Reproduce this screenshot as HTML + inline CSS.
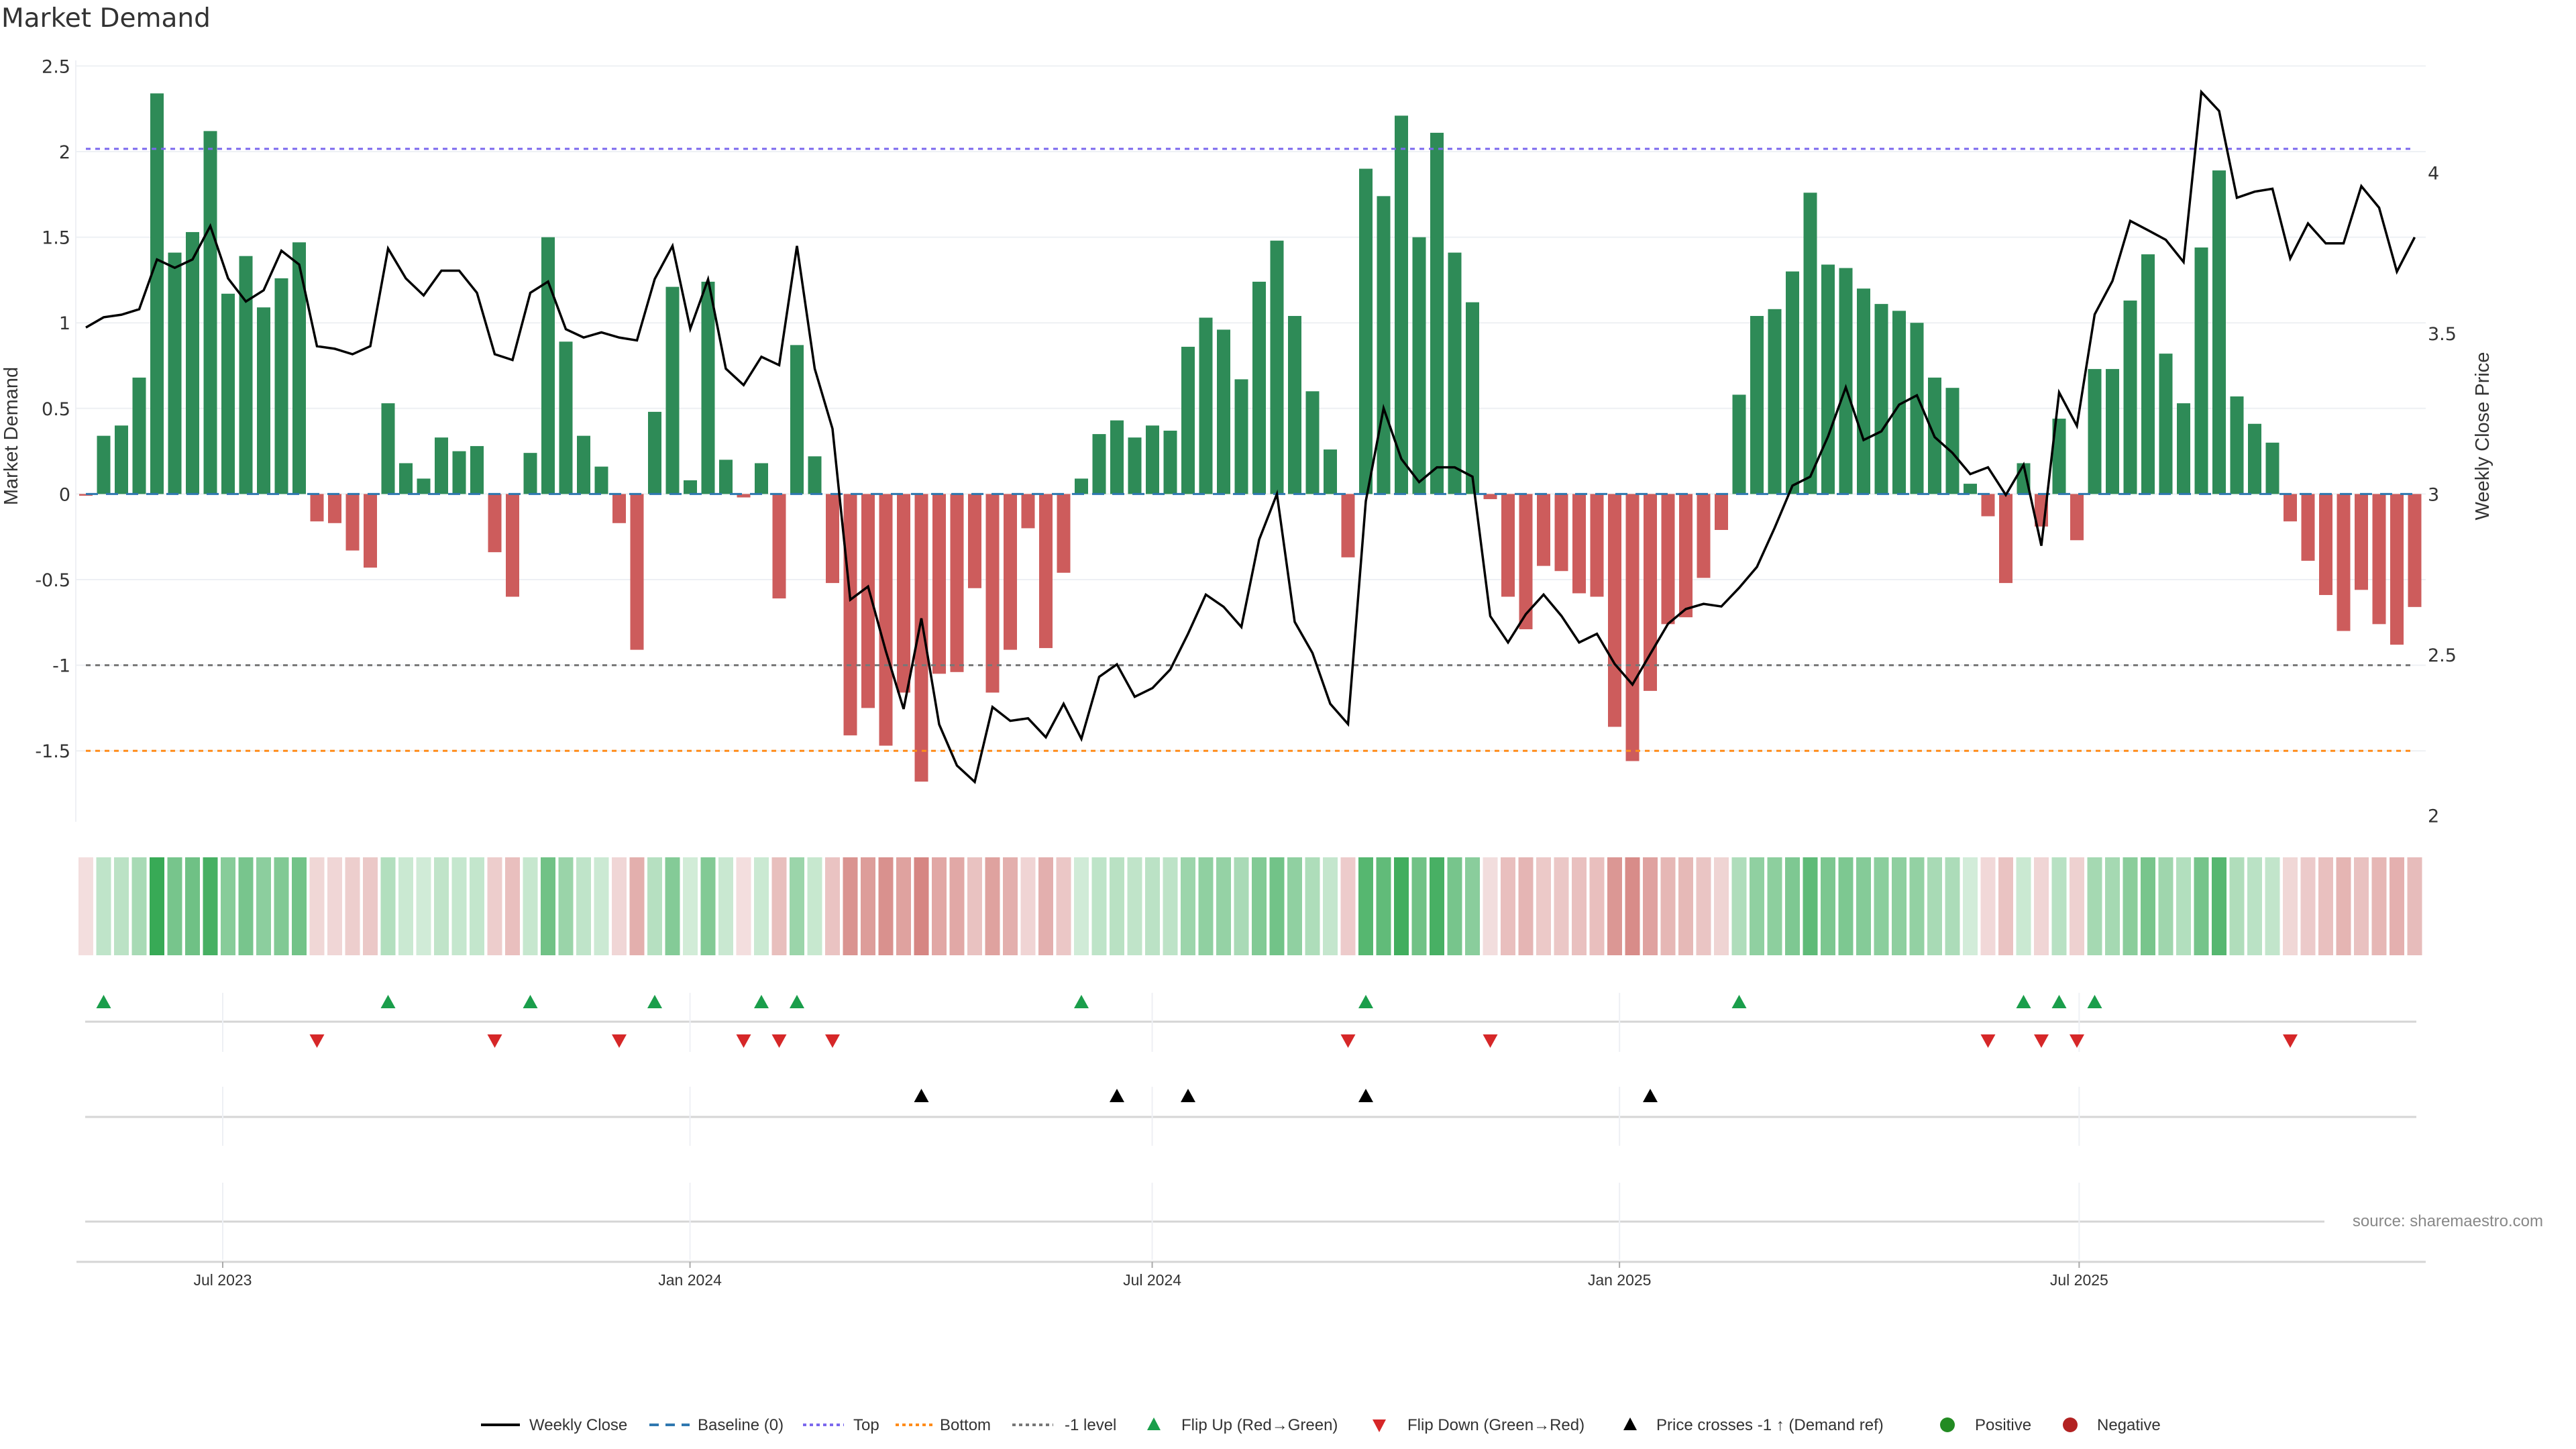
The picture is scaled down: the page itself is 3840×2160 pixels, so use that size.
<!DOCTYPE html>
<html><head><meta charset="utf-8">
<style>
html,body{margin:0;padding:0;background:#fff;}
svg{display:block;font-family:"Liberation Sans","DejaVu Sans",sans-serif;}
</style></head>
<body>
<svg id="chart" width="3840" height="2160" viewBox="0 0 3840 2160" xmlns="http://www.w3.org/2000/svg">
<text x="2" y="40" font-size="39" fill="#333" font-family="DejaVu Sans, sans-serif">Market Demand</text>
<text transform="translate(26,650) rotate(-90)" text-anchor="middle" font-size="29" fill="#333">Market Demand</text>
<text transform="translate(3710,650) rotate(-90)" text-anchor="middle" font-size="29" fill="#333">Weekly Close Price</text>
<g id="grid"></g><g id="heat"></g><g id="bars"></g><g id="refs"></g><g id="line"></g><g id="lower"></g><g id="legend"></g>
<rect x="3465" y="1800" width="330" height="36" fill="#fff"/>
<text x="3791" y="1828" text-anchor="end" font-size="24" fill="#888">source: sharemaestro.com</text>
</svg>
<script>
// ---- data ----
const demand = [-0.01,
0.34,0.40,0.68,2.34,1.41,1.53,2.12,1.17,1.39,1.09,1.26,1.47,-0.16,-0.17,-0.33,-0.43,0.53,0.18,0.09,0.33,0.25,0.28,-0.34,-0.60,0.24,1.50,0.89,0.34,0.16,-0.17,-0.91,0.48,1.21,0.08,1.24,
0.20,-0.02,0.18,-0.61,0.87,0.22,-0.52,-1.41,-1.25,-1.47,-1.16,-1.68,-1.05,-1.04,-0.55,-1.16,-0.91,-0.20,-0.90,-0.46,0.09,0.35,0.43,0.33,0.40,0.37,0.86,1.03,0.96,0.67,1.24,1.48,1.04,0.60,
0.26,-0.37,1.90,1.74,2.21,1.50,2.11,1.41,1.12,-0.03,-0.60,-0.79,-0.42,-0.45,-0.58,-0.60,-1.36,-1.56,-1.15,-0.76,-0.72,-0.49,-0.21,0.58,1.04,1.08,1.30,1.76,1.34,1.32,1.20,1.11,1.07,1.00,
0.68,0.62,0.06,-0.13,-0.52,0.18,-0.19,0.44,-0.27,0.73,0.73,1.13,1.40,0.82,0.53,1.44,1.89,0.57,0.41,0.30,-0.16,-0.39,-0.59,-0.80,-0.56,-0.76,-0.88,-0.66];
const price = [3.518,
3.550,3.558,3.575,3.730,3.704,3.730,3.834,3.671,3.599,3.634,3.757,3.714,3.460,3.452,3.435,3.460,3.764,3.671,3.618,3.695,3.695,3.626,3.435,3.417,3.626,3.661,3.513,3.487,3.503,3.487,3.478,3.669,3.772,3.514,3.668,
3.390,3.339,3.427,3.401,3.772,3.390,3.203,2.671,2.712,2.511,2.331,2.613,2.283,2.155,2.104,2.337,2.294,2.302,2.243,2.347,2.238,2.431,2.470,2.369,2.396,2.454,2.565,2.687,2.649,2.586,2.858,3.000,2.602,2.505,
2.347,2.284,2.978,3.267,3.109,3.037,3.083,3.083,3.054,2.620,2.538,2.626,2.687,2.621,2.538,2.565,2.471,2.407,2.502,2.596,2.642,2.658,2.650,2.708,2.773,2.895,3.026,3.054,3.179,3.332,3.168,3.195,3.278,3.307,
3.177,3.128,3.062,3.083,2.997,3.091,2.839,3.316,3.212,3.559,3.663,3.850,3.821,3.791,3.722,4.251,4.192,3.922,3.941,3.950,3.733,3.842,3.780,3.780,3.958,3.891,3.692,3.799];
const yTicks = [2.5,2,1.5,1,0.5,0,-0.5,-1,-1.5];
const y2Ticks = [2,2.5,3,3.5,4];
const xTickLabels = ["Jul 2023","Jan 2024","Jul 2024","Jan 2025","Jul 2025"];
const xTickDays = [0,184,366,550,731]; // days since 2023-07-01
const refLevels = [2.016,-1.5,-1];
const crossLevel = 2.467;

// ---- axes ----
const NS="http://www.w3.org/2000/svg";
const X0=128, DX=26.5;
const xw=i=>X0+i*DX;
const yD=v=>736.4-v*255.2;
const yP=p=>736.4-(p-3)*479;
const xDate=d=>332+d/7*DX;
function mk(tag,attrs,parent){const e=document.createElementNS(NS,tag);for(const k in attrs)e.setAttribute(k,attrs[k]);document.getElementById(parent).appendChild(e);return e;}
function mix(a,b,t){const p=s=>[1,3,5].map(i=>parseInt(s.substr(i,2),16));const A=p(a),B=p(b);return "rgb("+A.map((v,i)=>Math.round(v+(B[i]-v)*t)).join(",")+")";}

yTicks.forEach(v=>{
  const g=mk('line',{x1:113,x2:3616,y1:yD(v),y2:yD(v),stroke:'#eef0f4','stroke-width':2},'grid');
  
  
  const t=mk('text',{x:105,y:yD(v)+10,'text-anchor':'end','font-size':27,fill:'#333','font-family':'DejaVu Sans, sans-serif'},'grid');
  t.textContent=String(v);
  
  
});
y2Ticks.forEach(v=>{
  const t=mk('text',{x:3619,y:yP(v)+10,'font-size':27,fill:'#333','font-family':'DejaVu Sans, sans-serif'},'grid');
  t.textContent=String(v);
  
  
});
const ax=mk('line',{x1:113,x2:113,y1:90,y2:1225,stroke:'#eef0f4','stroke-width':2},'grid');



demand.forEach((v,i)=>{
  const y1=yD(Math.max(v,0)), y2=yD(Math.min(v,0));
  const r=mk('rect',{x:xw(i)-10,y:y1,width:20,height:Math.max(y2-y1,0.5),fill:v>=0?'#2e8b57':'#cd5c5c'},'bars');
  
  
});
demand.forEach((v,i)=>{
  const t=Math.min(Math.abs(v)/2.4,1);
  const c=v>=0?mix('#d6eedc','#34a853',t):mix('#f3dfdf','#c9605b',t);
  const r=mk('rect',{x:xw(i)-11,y:1278,width:22,height:146,fill:c},'heat');
  
  
});
const refStyles=[['#7b68ee','7,7','top-line'],['#ff8c1a','7,7','bottom-line'],['#777','7,7','minus-one-line']];
refLevels.forEach((v,k)=>{
  const l=mk('line',{x1:xw(0),x2:xw(demand.length-1),y1:yD(v),y2:yD(v),stroke:refStyles[k][0],'stroke-width':3,'stroke-dasharray':refStyles[k][1]},'refs');
  
  
});
const bl=mk('line',{x1:xw(0),x2:xw(demand.length-1),y1:yD(0),y2:yD(0),stroke:'#2f78b0','stroke-width':3,'stroke-dasharray':'18,12'},'refs');


const pl=mk('polyline',{points:price.map((p,i)=>xw(i)+','+yP(p)).join(' '),fill:'none',stroke:'#000','stroke-width':3.5,'stroke-linejoin':'miter'},'line');



[1523,1665,1821].forEach(y=>{
  const l=mk('line',{x1:127,x2:3602,y1:y,y2:y,stroke:'#d5d5d5','stroke-width':3},'lower');
  
  
});
const xa=mk('line',{x1:114,x2:3616,y1:1881,y2:1881,stroke:'#d5d5d5','stroke-width':3},'lower');


xTickDays.forEach((d,k)=>{
  const x=xDate(d);
  [[1480,1568],[1620,1708],[1763,1878]].forEach(s=>{
    const g=mk('line',{x1:x,x2:x,y1:s[0],y2:s[1],stroke:'#eef0f4','stroke-width':2},'lower');
    
    
  });
  const tk=mk('line',{x1:x,x2:x,y1:1881,y2:1890,stroke:'#aaa','stroke-width':2},'lower');
  
  
  const t=mk('text',{x:x,y:1916,'text-anchor':'middle','font-size':23,fill:'#333'},'lower');
  t.textContent=xTickLabels[k];
  
  
});
function tri(x,y,up,color,name){
  const pts=up?[[x,y-11],[x-11,y+9],[x+11,y+9]]:[[x,y+11],[x-11,y-9],[x+11,y-9]];
  const p=mk('polygon',{points:pts.map(a=>a.join(',')).join(' '),fill:color},'lower');
  
  
}
for(let i=1;i<demand.length;i++){
  if(demand[i]>0&&demand[i-1]<=0) tri(xw(i),1494,true,'#1a9e4b','flip-up-marker');
  if(demand[i]<0&&demand[i-1]>=0) tri(xw(i),1551,false,'#d62728','flip-down-marker');
  if(price[i]>=crossLevel&&price[i-1]<crossLevel) tri(xw(i),1634,true,'#000','price-cross-marker');
}

function ltext(x,s,name){const t=mk('text',{x:x,y:2132,'font-size':24,fill:'#333'},'legend');t.textContent=s;}
function lline(x1,x2,c,dash,w,name){const l=mk('line',{x1:x1,x2:x2,y1:2124,y2:2124,stroke:c,'stroke-width':w,'stroke-dasharray':dash},'legend');}
lline(717,775,'#000','none',4,'legend-weekly-close-swatch');ltext(789,'Weekly Close','legend-weekly-close');
lline(968,1028,'#2f78b0','14,10',4,'legend-baseline-swatch');ltext(1040,'Baseline (0)','legend-baseline');
lline(1197,1258,'#7b68ee','5,5',4,'legend-top-swatch');ltext(1272,'Top','legend-top');
lline(1335,1392,'#ff8c1a','5,5',4,'legend-bottom-swatch');ltext(1401,'Bottom','legend-bottom');
lline(1509,1570,'#777','5,5',4,'legend-minus-one-swatch');ltext(1587,'-1 level','legend-minus-one');
function ltri(x,up,c,name){const y=2124;const pts=up?[[x,y-11],[x-10,y+8],[x+10,y+8]]:[[x,y+11],[x-10,y-8],[x+10,y-8]];const p=mk('polygon',{points:pts.map(a=>a.join(',')).join(' '),fill:c},'legend');}
ltri(1720,true,'#1a9e4b','legend-flip-up-swatch');ltext(1761,'Flip Up (Red\u2192Green)','legend-flip-up');
ltri(2056,false,'#d62728','legend-flip-down-swatch');ltext(2098,'Flip Down (Green\u2192Red)','legend-flip-down');
ltri(2430,true,'#000','legend-price-cross-swatch');ltext(2469,'Price crosses -1 \u2191 (Demand ref)','legend-price-cross');
const c1=mk('circle',{cx:2903,cy:2124,r:11,fill:'#228b22'},'legend');


ltext(2944,'Positive','legend-positive');
const c2=mk('circle',{cx:3086,cy:2124,r:11,fill:'#b22222'},'legend');


ltext(3126,'Negative','legend-negative');
</script>
</body></html>
